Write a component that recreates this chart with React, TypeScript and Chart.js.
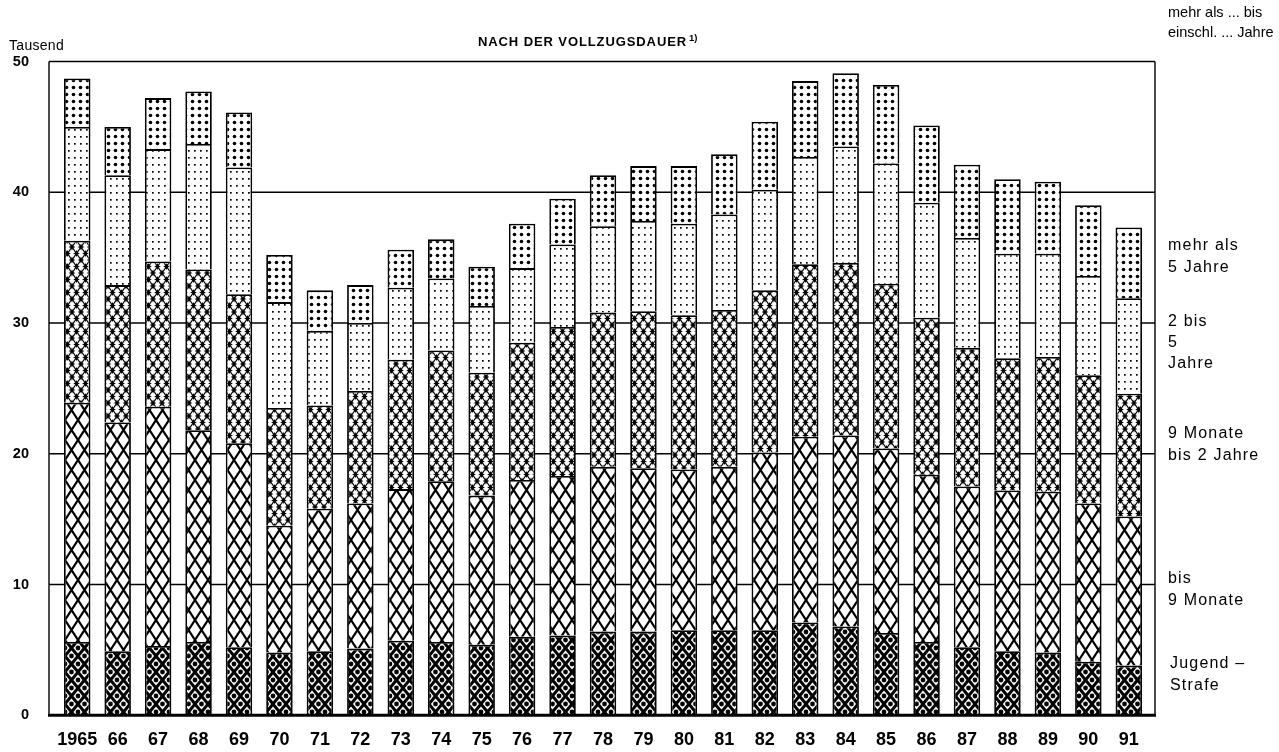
import React, { useEffect, useRef } from "react";
import { Chart, registerables } from "chart.js";

Chart.register(...registerables);

// ---- Data (Tausend) ----
const years = ["1965", "66", "67", "68", "69", "70", "71", "72", "73", "74", "75", "76", "77", "78", "79", "80", "81", "82", "83", "84", "85", "86", "87", "88", "89", "90", "91"];
const jugendstrafe = [5.6, 4.9, 5.3, 5.6, 5.2, 4.8, 4.9, 5.1, 5.7, 5.6, 5.4, 6.0, 6.1, 6.4, 6.4, 6.5, 6.5, 6.5, 7.1, 6.8, 6.3, 5.6, 5.2, 4.9, 4.8, 4.1, 3.8];
const bis9Monate = [18.3, 17.5, 18.3, 16.2, 15.6, 9.7, 10.9, 11.1, 11.6, 12.3, 11.4, 12.0, 12.2, 12.6, 12.5, 12.3, 12.5, 13.6, 14.2, 14.6, 14.1, 12.8, 12.3, 12.3, 12.3, 12.1, 11.4];
const monate9bis2Jahre = [12.4, 10.5, 11.1, 12.3, 11.4, 9.0, 7.9, 8.6, 9.9, 10.0, 9.4, 10.5, 11.4, 11.8, 12.0, 11.8, 12.0, 12.4, 13.2, 13.2, 12.6, 12.0, 10.6, 10.1, 10.3, 9.8, 9.4];
const jahre2bis5 = [8.7, 8.4, 8.6, 9.6, 9.7, 8.1, 5.7, 5.2, 5.5, 5.5, 5.1, 5.7, 6.3, 6.6, 6.9, 7.0, 7.3, 7.7, 8.2, 8.9, 9.2, 8.8, 8.4, 8.0, 7.9, 7.6, 7.3];
const mehrAls5Jahre = [3.7, 3.7, 3.9, 4.0, 4.2, 3.6, 3.1, 2.9, 2.9, 3.0, 3.0, 3.4, 3.5, 3.9, 4.2, 4.4, 4.6, 5.2, 5.8, 5.6, 6.0, 5.9, 5.6, 5.7, 5.5, 5.4, 5.4];
const yTickValues = [0, 10, 20, 30, 40, 50];
const seriesLabels = ["Jugendstrafe", "bis 9 Monate", "9 Monate bis 2 Jahre", "2 bis 5 Jahre", "mehr als 5 Jahre"];

const FONT = '"Liberation Sans", Arial, Helvetica, sans-serif';

function tile(w: number, h: number, draw: (ctx: CanvasRenderingContext2D) => void): CanvasPattern | string {
  const c = document.createElement("canvas");
  c.width = w;
  c.height = h;
  const ctx = c.getContext("2d");
  if (!ctx) return "#fff";
  ctx.fillStyle = "#fff";
  ctx.fillRect(0, 0, w, h);
  ctx.fillStyle = "#000";
  ctx.strokeStyle = "#000";
  draw(ctx);
  const p = ctx.createPattern(c, "repeat");
  return p || "#fff";
}

function xLines(ctx: CanvasRenderingContext2D, w: number, h: number, lw: number) {
  ctx.lineWidth = lw;
  for (const dx of [-w, 0, w]) {
    ctx.beginPath();
    ctx.moveTo(dx, 0);
    ctx.lineTo(dx + w, h);
    ctx.moveTo(dx + w, 0);
    ctx.lineTo(dx, h);
    ctx.stroke();
  }
}

function makePatterns() {
  const jug = tile(13, 16, (ctx) => {
    xLines(ctx, 13, 16, 3.0);
    for (const [x, y] of [[6.5, 0], [6.5, 16], [0, 8], [13, 8]]) {
      ctx.beginPath();
      ctx.arc(x, y, 2.4, 0, Math.PI * 2);
      ctx.fill();
    }
  });
  const b9 = tile(13, 20, (ctx) => {
    xLines(ctx, 13, 20, 2.2);
  });
  const m9 = tile(9, 13, (ctx) => {
    xLines(ctx, 9, 13, 1.2);
    const star = (cx: number, cy: number) => {
      const r = 3.4, ri = 1.1;
      ctx.beginPath();
      ctx.moveTo(cx, cy - r);
      ctx.lineTo(cx + ri, cy - ri);
      ctx.lineTo(cx + r, cy);
      ctx.lineTo(cx + ri, cy + ri);
      ctx.lineTo(cx, cy + r);
      ctx.lineTo(cx - ri, cy + ri);
      ctx.lineTo(cx - r, cy);
      ctx.lineTo(cx - ri, cy - ri);
      ctx.closePath();
      ctx.fill();
    };
    for (const [x, y] of [[0, 0], [9, 0], [0, 13], [9, 13], [4.5, 6.5]]) star(x, y);
  });
  const j25 = tile(6, 7, (ctx) => {
    ctx.fillRect(2, 3, 1.7, 1.7);
  });
  const m5 = tile(7, 7, (ctx) => {
    ctx.beginPath();
    ctx.arc(3.5, 3.5, 1.8, 0, Math.PI * 2);
    ctx.fill();
  });
  return [jug, b9, m9, j25, m5];
}

const TOP = 61.5;
const BOTTOM = 717.5;
const AREA_RIGHT = 1149;
const AREA_LEFT = 57;
const FRAME_LEFT = 49;
const FRAME_RIGHT = 1155;

const framePlugin = {
  id: "frame",
  beforeDatasetsDraw(chart: any) {
    const { ctx, scales } = chart;
    const y = scales.y;
    ctx.save();
    ctx.strokeStyle = "#000";
    ctx.lineWidth = 1.4;
    for (const v of yTickValues) {
      if (v === 0) continue;
      const py = y.getPixelForValue(v);
      ctx.beginPath();
      ctx.moveTo(FRAME_LEFT, py);
      ctx.lineTo(FRAME_RIGHT, py);
      ctx.stroke();
    }
    const top = y.getPixelForValue(50);
    const bot = y.getPixelForValue(0);
    ctx.beginPath();
    ctx.moveTo(FRAME_LEFT, top);
    ctx.lineTo(FRAME_LEFT, bot);
    ctx.moveTo(FRAME_RIGHT, top);
    ctx.lineTo(FRAME_RIGHT, bot);
    ctx.stroke();
    ctx.restore();
  },
  afterDatasetsDraw(chart: any) {
    const { ctx, scales } = chart;
    const bot = scales.y.getPixelForValue(0);
    ctx.save();
    ctx.strokeStyle = "#000";
    ctx.lineWidth = 3;
    ctx.beginPath();
    ctx.moveTo(FRAME_LEFT - 1, bot);
    ctx.lineTo(FRAME_RIGHT + 1, bot);
    ctx.stroke();
    ctx.restore();
  },
};

function Txt(props: { x: number; b: number; size: number; bold?: boolean; ls?: number; children: React.ReactNode }) {
  const { x, b, size, bold, ls, children } = props;
  return (
    <div
      style={{
        position: "absolute",
        left: x,
        top: b - 0.8465 * size,
        fontFamily: FONT,
        fontSize: size,
        lineHeight: `${size}px`,
        fontWeight: bold ? 700 : 400,
        letterSpacing: ls ? `${ls}px` : undefined,
        whiteSpace: "nowrap",
        color: "#000",
      }}
    >
      {children}
    </div>
  );
}

export default function App() {
  const ref = useRef<HTMLCanvasElement | null>(null);

  useEffect(() => {
    if (!ref.current) return;
    const pats = makePatterns();
    const seriesData = [jugendstrafe, bis9Monate, monate9bis2Jahre, jahre2bis5, mehrAls5Jahre];
    const chart = new Chart(ref.current, {
      type: "bar",
      data: {
        labels: years,
        datasets: seriesData.map((d, i) => ({
          label: seriesLabels[i],
          data: d,
          backgroundColor: pats[i] as any,
          borderColor: "#000",
          borderWidth: 1.8,
          borderSkipped: "start" as const,
          categoryPercentage: 1,
          barPercentage: 0.655,
        })),
      },
      options: {
        responsive: false,
        animation: false,
        events: [],
        layout: { padding: { top: TOP, right: 1279 - AREA_RIGHT, left: 0, bottom: 0 } },
        plugins: { legend: { display: false }, tooltip: { enabled: false }, title: { display: false } },
        scales: {
          x: {
            stacked: true,
            grid: { display: false, drawTicks: false },
            border: { display: false },
            ticks: {
              autoSkip: false,
              maxRotation: 0,
              padding: 14,
              color: "#000",
              font: { family: FONT, size: 18, weight: "bold" },
            },
            afterFit: (s: any) => {
              s.height = 752 - BOTTOM;
            },
          },
          y: {
            stacked: true,
            min: 0,
            max: 50,
            grid: { display: false, drawTicks: false },
            border: { display: false },
            ticks: {
              stepSize: 10,
              padding: 28,
              color: "#000",
              font: { family: FONT, size: 14.5, weight: "bold" },
            },
            afterFit: (s: any) => {
              s.width = AREA_LEFT;
            },
          },
        },
      },
      plugins: [framePlugin],
    });
    return () => chart.destroy();
  }, []);

  return (
    <div style={{ position: "fixed", left: 0, top: 0, width: 1279, height: 752, background: "#fff" }}>
      <canvas ref={ref} width={1279} height={752} style={{ position: "absolute", left: 0, top: 0, width: 1279, height: 752 }} />
      <Txt x={9} b={50} size={14} ls={0.3}>Tausend</Txt>
      <Txt x={478} b={46.5} size={13} bold ls={0.9}>
        NACH DER VOLLZUGSDAUER
        <span style={{ fontSize: 9.5, position: "relative", top: -5, marginLeft: 2, letterSpacing: 0 }}>1)</span>
      </Txt>
      <Txt x={1168} b={17} size={14.5}>mehr als ... bis</Txt>
      <Txt x={1168} b={37} size={14.5}>einschl. ... Jahre</Txt>

      <Txt x={1168} b={251} size={16} ls={1.2}>mehr als</Txt>
      <Txt x={1168} b={272.5} size={16} ls={1.2}>5 Jahre</Txt>

      <Txt x={1168} b={327} size={16} ls={1.2}>2 bis</Txt>
      <Txt x={1168} b={348} size={16} ls={1.2}>5</Txt>
      <Txt x={1168} b={369} size={16} ls={1.2}>Jahre</Txt>

      <Txt x={1168} b={439} size={16} ls={1.2}>9 Monate</Txt>
      <Txt x={1168} b={461} size={16} ls={1.2}>bis 2 Jahre</Txt>

      <Txt x={1168} b={584} size={16} ls={1.2}>bis</Txt>
      <Txt x={1168} b={606} size={16} ls={1.2}>9 Monate</Txt>

      <Txt x={1170} b={669} size={16} ls={1.2}>Jugend –</Txt>
      <Txt x={1170} b={691} size={16} ls={1.2}>Strafe</Txt>
    </div>
  );
}
